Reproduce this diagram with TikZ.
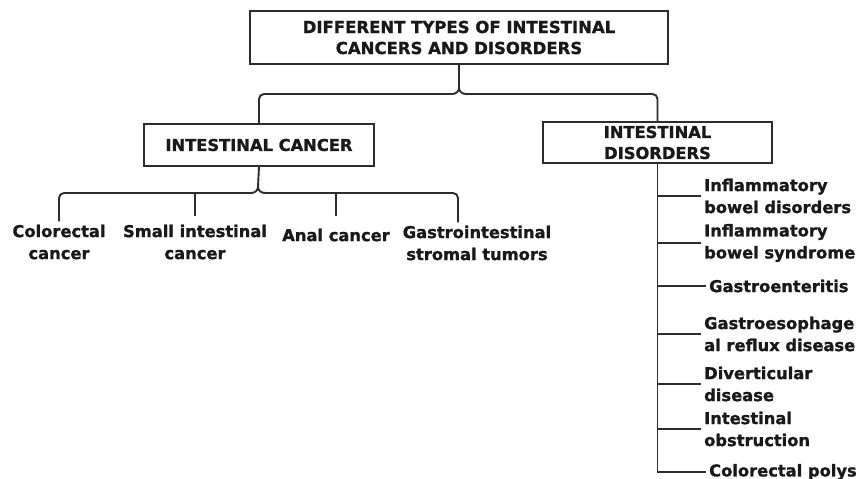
\documentclass[tikz,border=0pt]{standalone}
\usepackage{fontspec}
\setmainfont{DejaVu Sans}[BoldFeatures={FakeBold=1.2}]
\usetikzlibrary{calc, positioning}
\definecolor{ink}{RGB}{45,45,45}

\tikzset{
  txt/.style={font=\bfseries\fontsize{16.3}{22}\selectfont, text=black!90},
  hdr/.style={txt, draw=ink, line width=1.6pt, align=center, inner sep=0pt},
  leaf/.style={txt, align=center, inner sep=3pt},
  item/.style={txt, align=left, anchor=west, inner sep=3pt},
  link/.style={draw=ink, line width=1.9pt},
}

\begin{document}
\begin{tikzpicture}[x=1pt, y=-1pt]
  \useasboundingbox (0,0) rectangle (860,479);

  % boxes
  \node[hdr, minimum width=418pt, minimum height=53pt, font=\bfseries\fontsize{16.5}{21}\selectfont]
    (title) at (459,37.5) {DIFFERENT TYPES OF INTESTINAL\\CANCERS AND DISORDERS};
  \node[hdr, minimum width=230pt, minimum height=42pt] (ic) at (259,145) {INTESTINAL CANCER};
  \node[hdr, minimum width=229pt, minimum height=41pt, font=\bfseries\fontsize{16.3}{21}\selectfont]
    (id) at (657.5,142.5) {INTESTINAL\\DISORDERS};

  % cancers
  \node[leaf] (cc) at (59,242)  {Colorectal\\cancer};
  \node[leaf] (si) at (195,242) {Small intestinal\\cancer};
  \node[leaf] (ac) at (336,235) {Anal cancer};
  \node[leaf] (gt) at (477,243) {Gastrointestinal\\stromal tumors};
  \coordinate (gtend) at ($(gt.north)+(-19,0)$);

  % disorders
  \node[item] (ib) at (701,196) {Inflammatory\\bowel disorders};
  \node[item] (is) at (701,243) {Inflammatory\\bowel syndrome};
  \node[item] (ge) at (706,286) {Gastroenteritis};
  \node[item] (gr) at (701,334) {Gastroesophage\\al reflux disease};
  \node[item] (dd) at (701,384) {Diverticular\\disease};
  \node[item] (io) at (701,429) {Intestinal\\obstruction};
  \node[item] (cp) at (706,472) {Colorectal polys};

  % top brace
  \coordinate (tb) at (459,94);
  \draw[link, rounded corners=5pt] (ic.north) |- ($(tb)+(-7,0)$);
  \draw[link, rounded corners=5pt] (id.north) |- ($(tb)+(7,0)$);
  \draw[link] ($(tb)+(-7,0)$) to[out=0,in=-90] ($(tb)+(0,-6)$) -- (title.south);
  \draw[link] ($(tb)+(7,0)$) to[out=180,in=-90] ($(tb)+(0,-6)$);

  % lower brace
  \coordinate (lb) at (258,193);
  \draw[link, rounded corners=5pt] (cc.north) |- ($(lb)+(-7,0)$);
  \draw[link, rounded corners=5pt] (gtend) |- ($(lb)+(7,0)$);
  \draw[link] ($(lb)+(-7,0)$) to[out=0,in=-90] ($(lb)+(0,-6)$) -- (ic.south);
  \draw[link] ($(lb)+(7,0)$) to[out=180,in=-90] ($(lb)+(0,-6)$);
  \draw[link, shorten >=5pt] (si.north |- lb) -- (si.north);
  \draw[link, shorten >=9pt] (ac.north |- lb) -- (ac.north);

  % spine
  \draw[link] (id.south) |- (cp.west);
  \foreach \n in {ib,is,ge,gr,dd,io}
    \draw[link] (id.south |- \n.west) -- (\n.west);
\end{tikzpicture}
\end{document}
